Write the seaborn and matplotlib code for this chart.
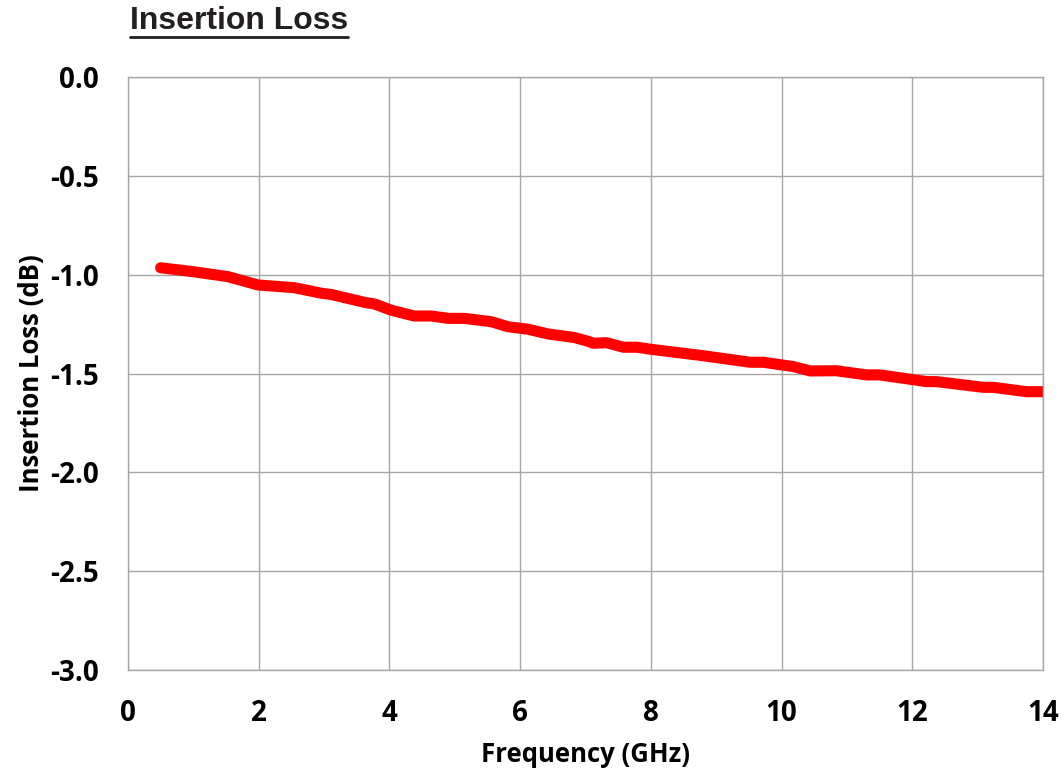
import matplotlib
matplotlib.use("Agg")
import matplotlib.pyplot as plt
import seaborn as sns
import pandas as pd
from matplotlib.lines import Line2D

freq_ghz = [0.5, 1.0, 1.53, 1.99, 2.35, 2.55, 2.96, 3.11, 3.62, 3.77, 4.03, 4.38, 4.64,
            4.90, 5.15, 5.56, 5.81, 6.12, 6.43, 6.83, 7.04, 7.12, 7.32, 7.58, 7.79, 7.99,
            8.8, 9.52, 9.72, 10.18, 10.44, 10.84, 11.30, 11.50, 12.22, 12.37, 13.09,
            13.24, 13.75, 14.0]
loss_db = [-0.965, -0.985, -1.010, -1.052, -1.061, -1.066, -1.094, -1.100, -1.140, -1.148,
           -1.180, -1.209, -1.209, -1.221, -1.221, -1.238, -1.263, -1.276, -1.300, -1.318,
           -1.337, -1.347, -1.344, -1.367, -1.367, -1.377, -1.410, -1.443, -1.443, -1.465,
           -1.487, -1.486, -1.507, -1.507, -1.541, -1.541, -1.570, -1.570, -1.592, -1.592]
x_ticks = [0, 2, 4, 6, 8, 10, 12, 14]
y_ticks = [0.0, -0.5, -1.0, -1.5, -2.0, -2.5, -3.0]

sns.set_style("white")
plt.rcParams["font.family"] = ["Open Sans", "DejaVu Sans"]
plt.rcParams["text.color"] = "black"
plt.rcParams["axes.labelcolor"] = "black"
plt.rcParams["xtick.color"] = "black"
plt.rcParams["ytick.color"] = "black"

df = pd.DataFrame({"Frequency (GHz)": freq_ghz, "Insertion Loss (dB)": loss_db})

fig = plt.figure(figsize=(10.63, 7.75), dpi=100)
ax = fig.add_axes([0.1204, 0.1355, 0.8608, 0.7651])
sns.lineplot(data=df, x="Frequency (GHz)", y="Insertion Loss (dB)", ax=ax,
             color="#ff0000", linewidth=8, solid_capstyle="round", solid_joinstyle="round")

ax.set_xlim(0, 14)
ax.set_ylim(-3.0, 0.0)
ax.set_xticks(x_ticks)
ax.set_yticks(y_ticks)
ax.set_xticklabels([str(t) for t in x_ticks])
ax.set_yticklabels([f"{t:.1f}" for t in y_ticks])
ax.grid(True, color="#a6a6a6", linewidth=1.0)
for s in ax.spines.values():
    s.set_color("#a6a6a6")
    s.set_linewidth(1.0)
ax.tick_params(axis="x", length=0, labelsize=20, pad=21, colors="black")
ax.tick_params(axis="y", length=0, labelsize=20, pad=21, colors="black")
for lab in ax.get_xticklabels() + ax.get_yticklabels():
    lab.set_fontweight("bold")
ax.set_xlabel("Frequency (GHz)", fontsize=18.5, fontweight="bold", labelpad=9, color="black")
ax.set_ylabel("Insertion Loss (dB)", fontsize=18.5, fontweight="bold", labelpad=4, color="black")

t = fig.text(130 / 1063, 1 - 21 / 775, "Insertion Loss", fontsize=23, fontweight="bold",
             family=["Liberation Sans", "DejaVu Sans"], color="#231f20", va="center", ha="left")
fig.canvas.draw()
bb = t.get_window_extent()
W, H = fig.bbox.width, fig.bbox.height
fig.add_artist(Line2D([bb.x0 / W, bb.x1 / W], [(H - 37) / H, (H - 37) / H],
                      color="#231f20", linewidth=2.0, transform=fig.transFigure))

fig.savefig("out.png", dpi=100)
